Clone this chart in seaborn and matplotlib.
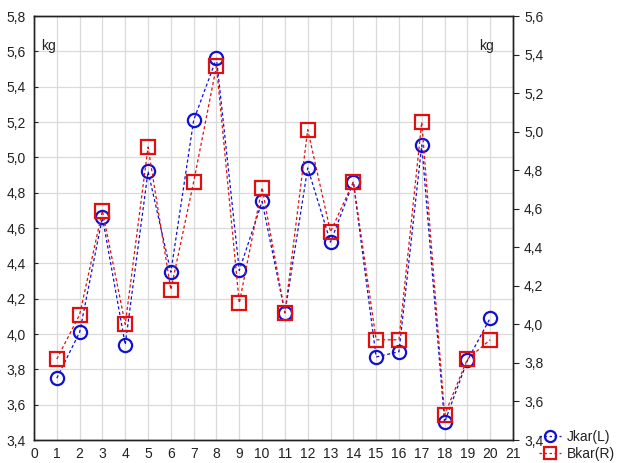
import matplotlib
matplotlib.use("Agg")
import matplotlib.pyplot as plt
from matplotlib.ticker import FuncFormatter
from matplotlib.lines import Line2D
import seaborn as sns
import pandas as pd

# ---- data ----
x_vals = list(range(1, 21))
jkar_L = [3.75, 4.01, 4.66, 3.94, 4.92, 4.35, 5.21, 5.56, 4.36, 4.75,
          4.12, 4.94, 4.52, 4.86, 3.87, 3.90, 5.07, 3.50, 3.85, 4.09]
bkar_R = [3.82, 4.05, 4.59, 4.00, 4.92, 4.18, 4.74, 5.34, 4.11, 4.71,
          4.06, 5.01, 4.48, 4.74, 3.92, 3.92, 5.05, 3.53, 3.82, 3.92]
left_ticks = [3.4, 3.6, 3.8, 4.0, 4.2, 4.4, 4.6, 4.8, 5.0, 5.2, 5.4, 5.6, 5.8]
right_ticks = [3.4, 3.6, 3.8, 4.0, 4.2, 4.4, 4.6, 4.8, 5.0, 5.2, 5.4, 5.6]
x_ticks = list(range(0, 22))
series_names = ["Jkar(L)", "Bkar(R)"]
unit_label = "kg"

sns.set_style("white")
plt.rcParams['font.family'] = ['Liberation Sans', 'DejaVu Sans']

BLUE = "#1010d0"
RED = "#e01010"

fig = plt.figure(figsize=(6.17, 4.63), dpi=100)
ax = fig.add_axes([34/617, 1-440/463, (513-34)/617, (440-16)/463])
ax2 = ax.twinx()

df = pd.DataFrame({"x": x_vals, "L": jkar_L, "R": bkar_R})

sns.lineplot(data=df, x="x", y="L", ax=ax, color=BLUE, marker="o",
             markersize=9.5, markerfacecolor="none", markeredgecolor=BLUE,
             markeredgewidth=1.6, linewidth=0.9, zorder=3)
sns.lineplot(data=df, x="x", y="R", ax=ax2, color=RED, marker="s",
             markersize=10, markerfacecolor="none", markeredgecolor=RED,
             markeredgewidth=1.6, linewidth=0.9, zorder=3)
for ln in ax.lines + ax2.lines:
    ln.set_linestyle((0, (2.5, 2)))

ax.set_xlim(0, 21)
ax.set_ylim(3.4, 5.8)
ax2.set_ylim(3.4, 5.6)
ax.set_xticks(x_ticks)
ax.set_yticks(left_ticks)
ax2.set_yticks(right_ticks)

fmt = FuncFormatter(lambda v, p: f"{v:.1f}".replace(".", ","))
ax.yaxis.set_major_formatter(fmt)
ax2.yaxis.set_major_formatter(fmt)

ax.set_xlabel("")
ax.set_ylabel("")
ax2.set_ylabel("")

ax.grid(True, color="#dadada", linewidth=0.9)
ax.set_axisbelow(True)

for a in (ax, ax2):
    for s in a.spines.values():
        s.set_color("#222222")
        s.set_linewidth(1.0)

ax.tick_params(axis="both", direction="in", length=3, width=0.8, colors="#222222",
               labelsize=10, labelcolor="#222222", pad=5)
ax.tick_params(axis="y", pad=6)
ax2.tick_params(axis="y", direction="out", length=4, width=0.8, colors="#222222",
                labelsize=10, labelcolor="#222222", pad=4)

ax.text(0.03, 0.93, unit_label, transform=ax.transAxes, fontsize=10,
        ha="center", va="center", color="#222222")
ax.text(0.944, 0.93, unit_label, transform=ax.transAxes, fontsize=10,
        ha="center", va="center", color="#222222")

handles = [
    Line2D([], [], color=BLUE, linestyle=(0, (2, 2)), linewidth=0.9, marker="o",
           markersize=8, markerfacecolor="none", markeredgecolor=BLUE, markeredgewidth=1.6),
    Line2D([], [], color=RED, linestyle=(0, (2, 2)), linewidth=0.9, marker="s",
           markersize=8, markerfacecolor="none", markeredgecolor=RED, markeredgewidth=1.6),
]
fig.legend(handles, series_names, loc="lower right", bbox_to_anchor=(1.0, 0.0),
           frameon=False, fontsize=10, handlelength=1.6, handletextpad=0.4,
           labelspacing=0.2, borderpad=0.15, borderaxespad=0.0, labelcolor="#222222")

fig.savefig("out.png", dpi=100)
